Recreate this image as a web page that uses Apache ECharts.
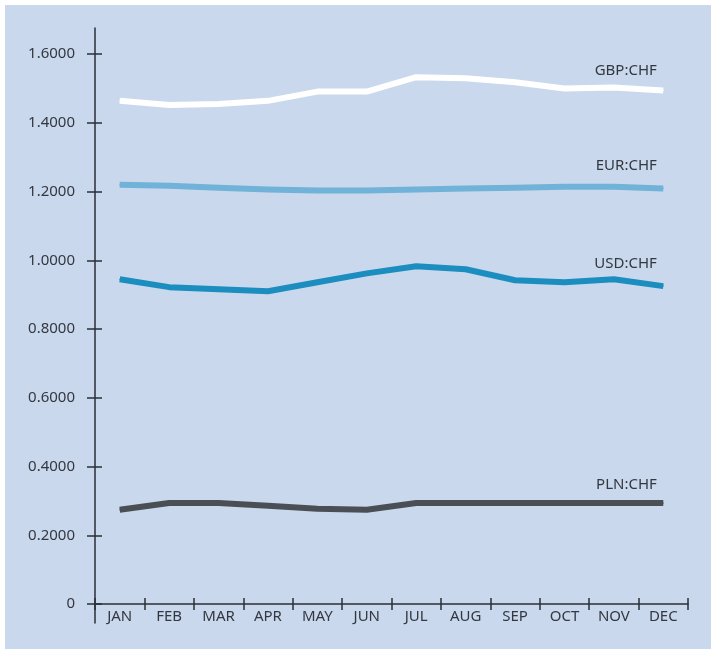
<!DOCTYPE html>
<html>
<head>
<meta charset="utf-8">
<script src="https://cdn.jsdelivr.net/npm/echarts@6/dist/echarts.min.js"></script>
<style>
  html, body { margin: 0; padding: 0; background: #ffffff; }
  #chart { position: absolute; left: 5px; top: 5px; width: 706px; height: 644px; }
</style>
</head>
<body>
<div id="chart"></div>
<script>
// Monthly exchange rates against the Swiss franc
const months = ['JAN', 'FEB', 'MAR', 'APR', 'MAY', 'JUN', 'JUL', 'AUG', 'SEP', 'OCT', 'NOV', 'DEC'];
const gbpChf = [1.464, 1.452, 1.455, 1.464, 1.491, 1.491, 1.533, 1.530, 1.518, 1.500, 1.503, 1.494];
const eurChf = [1.220, 1.217, 1.211, 1.206, 1.203, 1.203, 1.206, 1.209, 1.211, 1.214, 1.214, 1.209];
const usdChf = [0.945, 0.922, 0.916, 0.910, 0.936, 0.962, 0.983, 0.974, 0.942, 0.936, 0.945, 0.925];
const plnChf = [0.274, 0.294, 0.294, 0.286, 0.277, 0.274, 0.294, 0.294, 0.294, 0.294, 0.294, 0.294];
const yTicks = [0, 0.2, 0.4, 0.6, 0.8, 1.0, 1.2, 1.4, 1.6];

const FONT = '"Noto Sans", "Open Sans", sans-serif';
const AXIS_COLOR = '#2a2f36';
const TEXT_COLOR = '#333840';
const Y_MAX = 1.676;

const chart = echarts.init(document.getElementById('chart'), null, { renderer: 'canvas' });

const fmtY = v => (v === 0 ? '0' : v.toFixed(4));

function pairSeries(name, data, color, labelRise) {
  const last = data.length - 1;
  return {
    name: name,
    type: 'line',
    data: data,
    xAxisIndex: 0,
    yAxisIndex: 0,
    symbol: 'circle',
    symbolSize: 1,
    showSymbol: true,
    itemStyle: { color: color },
    lineStyle: { color: color, width: 6, cap: 'butt', join: 'round' },
    label: {
      show: true,
      position: [-6, -labelRise],
      align: 'right',
      verticalAlign: 'middle',
      fontFamily: FONT,
      fontSize: 15,
      color: TEXT_COLOR,
      formatter: p => (p.dataIndex === last ? name : '')
    },
    emphasis: { disabled: true },
    animation: false,
    z: 3
  };
}

const axisLineStyle = { color: AXIS_COLOR, width: 1.5 };

chart.setOption({
  backgroundColor: '#c9d8ed',
  animation: false,
  grid: [
    // plotting area
    { left: 90, right: 23, top: 23, bottom: 45, containLabel: false },
    // short stub of the vertical axis running below the month axis
    { left: 90, right: 23, top: 599, bottom: 26, containLabel: false }
  ],
  xAxis: [
    {
      type: 'category',
      gridIndex: 0,
      data: months,
      boundaryGap: true,
      position: 'bottom',
      axisLine: { show: true, onZero: false, lineStyle: axisLineStyle },
      axisTick: { show: true, inside: false, length: 6, lineStyle: axisLineStyle },
      axisLabel: { show: true, margin: 5, fontFamily: FONT, fontSize: 15, color: TEXT_COLOR },
      splitLine: { show: false }
    },
    {
      type: 'category',
      gridIndex: 0,
      data: months,
      boundaryGap: true,
      position: 'bottom',
      axisLine: { show: false, onZero: false },
      axisTick: { show: true, inside: true, length: 6, lineStyle: axisLineStyle },
      axisLabel: { show: false },
      splitLine: { show: false }
    },
    {
      type: 'category',
      gridIndex: 1,
      data: months,
      show: false
    }
  ],
  yAxis: [
    {
      type: 'value',
      gridIndex: 0,
      min: 0,
      max: Y_MAX,
      position: 'left',
      splitLine: { show: false },
      axisLine: { show: true, lineStyle: axisLineStyle },
      axisTick: { show: true, inside: false, length: 8, customValues: yTicks, lineStyle: axisLineStyle },
      axisLabel: { show: true, margin: 20, customValues: yTicks, formatter: fmtY, fontFamily: FONT, fontSize: 15, color: TEXT_COLOR }
    },
    {
      type: 'value',
      gridIndex: 0,
      min: 0,
      max: Y_MAX,
      position: 'left',
      splitLine: { show: false },
      axisLine: { show: false },
      axisTick: { show: true, inside: true, length: 7, customValues: yTicks, lineStyle: axisLineStyle },
      axisLabel: { show: false }
    },
    {
      type: 'value',
      gridIndex: 1,
      position: 'left',
      splitLine: { show: false },
      axisLine: { show: true, onZero: false, lineStyle: axisLineStyle },
      axisTick: { show: false },
      axisLabel: { show: false }
    }
  ],
  series: [
    pairSeries('GBP:CHF', gbpChf, '#ffffff', 19),
    pairSeries('EUR:CHF', eurChf, '#70b2d8', 22),
    pairSeries('USD:CHF', usdChf, '#1b8dbf', 22),
    pairSeries('PLN:CHF', plnChf, '#4a4f56', 18)
  ]
});
</script>
</body>
</html>
